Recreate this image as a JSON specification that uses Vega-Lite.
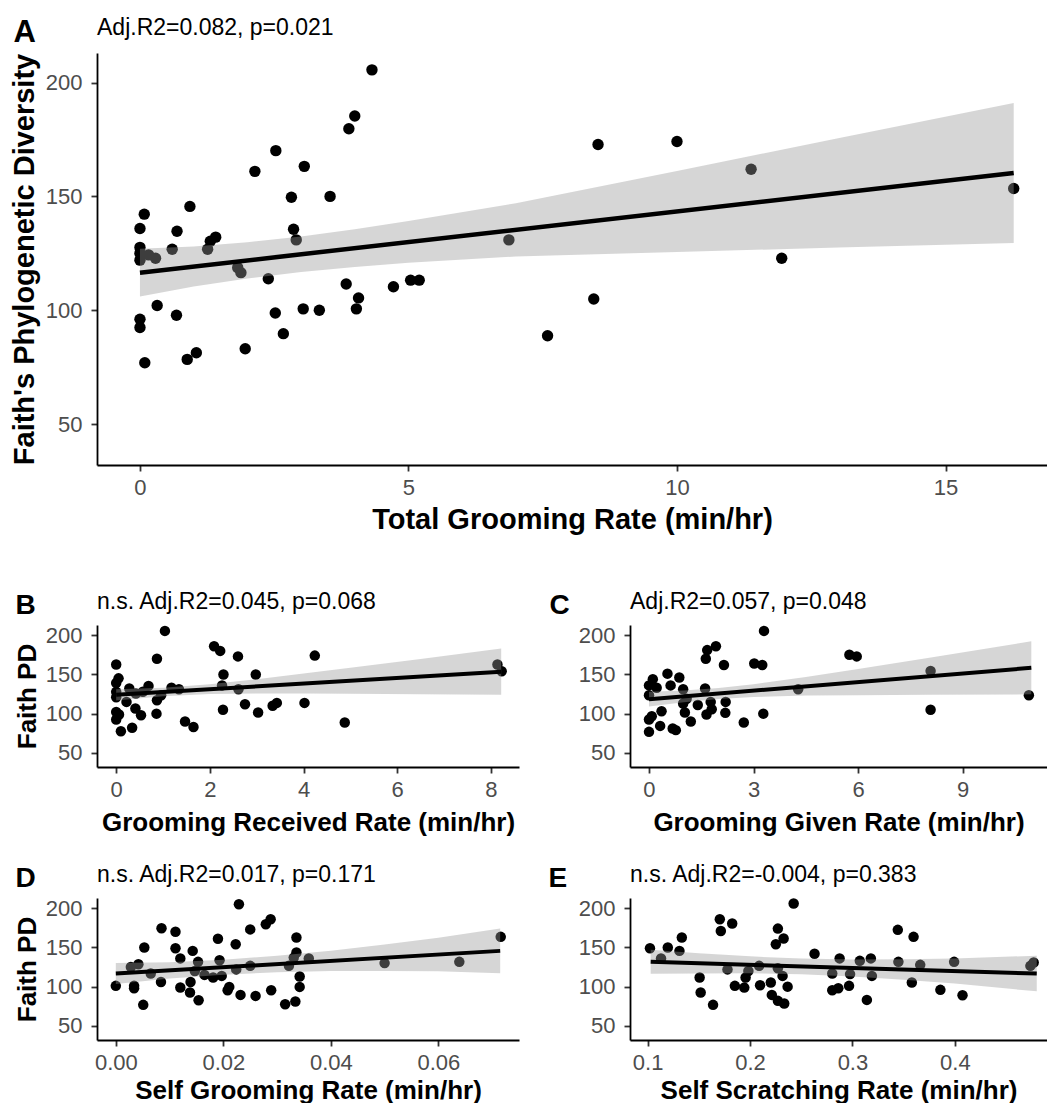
{
  "$schema": "https://vega.github.io/schema/vega-lite/v6.json",
  "background": "white",
  "padding": {"left": 10, "top": 16, "right": 0, "bottom": 0},
  "bounds": "flush",
  "spacing": 160,
  "config": {
    "font": "Liberation Sans",
    "view": {"stroke": null},
    "axis": {"grid": false, "domainColor": "black", "domainWidth": 1.8, "tickColor": "#333333", "tickWidth": 1.8, "tickSize": 6, "labelColor": "#4D4D4D", "labelFontSize": 22, "labelFlush": false, "labelFont": "Liberation Sans", "titleFont": "Liberation Sans", "titleColor": "black", "titleFontWeight": "bold"},
    "axisX": {"labelPadding": 6},
    "axisY": {"labelPadding": 9},
    "title": {"font": "Liberation Sans", "color": "black", "fontWeight": "normal", "fontSize": 23, "anchor": "start", "frame": "group", "baseline": "alphabetic"}
  },
  "vconcat": [
    {
      "width": 950, "height": 412,
      "title": {"text": "Adj.R2=0.082, p=0.021", "offset": -24},
      "resolve": {"axis": {"x": "independent"}},
      "layer": [
        {
          "data": {"values": [
            {"x":4.32,"y":205.6},{"x":4.0,"y":185.3},{"x":3.89,"y":179.7},{"x":2.53,"y":170.1},{"x":3.06,"y":163.2},{"x":2.14,"y":161.0},{"x":0.93,"y":145.6},{"x":0.08,"y":142.2},{"x":2.82,"y":149.6},{"x":3.54,"y":150.0},{"x":0.0,"y":135.9},{"x":0.69,"y":134.7},{"x":2.86,"y":135.6},{"x":1.41,"y":132.1},{"x":1.31,"y":130.3},{"x":2.91,"y":130.9},{"x":0.6,"y":126.8},{"x":1.26,"y":126.8},{"x":0.0,"y":127.6},{"x":0.0,"y":125.0},{"x":0.0,"y":122.0},{"x":0.16,"y":124.3},{"x":0.29,"y":122.8},{"x":1.82,"y":118.7},{"x":1.88,"y":116.5},{"x":2.39,"y":113.8},{"x":3.84,"y":111.5},{"x":4.72,"y":110.3},{"x":5.04,"y":113.2},{"x":5.2,"y":113.2},{"x":4.07,"y":105.4},{"x":4.03,"y":100.6},{"x":3.04,"y":100.6},{"x":3.34,"y":100.0},{"x":2.52,"y":98.8},{"x":0.68,"y":97.8},{"x":0.32,"y":102.1},{"x":0.0,"y":96.0},{"x":0.0,"y":92.4},{"x":2.67,"y":89.7},{"x":1.96,"y":83.1},{"x":1.05,"y":81.3},{"x":0.88,"y":78.4},{"x":0.09,"y":76.9},{"x":6.87,"y":130.9},{"x":8.53,"y":172.8},{"x":10.0,"y":174.1},{"x":11.38,"y":161.9},{"x":16.27,"y":153.5},{"x":11.95,"y":122.8},{"x":8.45,"y":104.9},{"x":7.59,"y":88.8}
          ]},
          "mark": {"type": "circle", "size": 130, "color": "black", "opacity": 1},
          "encoding": {
            "x": {"field": "x", "type": "quantitative", "scale": {"domain": [-0.8, 16.89], "nice": false, "zero": false}, "axis": {"title": "Total Grooming Rate (min/hr)", "values": [0, 5, 10, 15], "titleFontSize": 29, "titlePadding": 7}},
            "y": {"field": "y", "type": "quantitative", "scale": {"domain": [32, 213], "nice": false, "zero": false}, "axis": {"title": "Faith's Phylogenetic Diversity", "values": [50, 100, 150, 200], "titleFontSize": 29, "titlePadding": 6}}
          }
        },
        {
          "data": {"values": [
            {"x":0,"lo":106.0,"hi":127.0},{"x":1,"lo":110.4,"hi":128.0},{"x":2,"lo":113.9,"hi":129.9},{"x":3,"lo":116.8,"hi":132.4},{"x":4,"lo":119.0,"hi":135.6},{"x":5,"lo":120.8,"hi":139.2},{"x":7,"lo":123.6,"hi":147.0},{"x":10,"lo":125.6,"hi":161.2},{"x":13,"lo":127.5,"hi":175.5},{"x":16.27,"lo":129.5,"hi":191.0}
          ]},
          "mark": {"type": "area", "color": "#999999", "opacity": 0.4},
          "encoding": {
            "x": {"field": "x", "type": "quantitative", "axis": {"orient": "top", "title": "A", "labels": false, "ticks": false, "domain": false, "titleX": -84, "titleY": -12, "titleAlign": "left", "titleBaseline": "alphabetic", "titleAngle": 0, "titleFontSize": 31}},
            "y": {"field": "lo", "type": "quantitative", "title": "Faith's Phylogenetic Diversity"},
            "y2": {"field": "hi"}
          }
        },
        {
          "data": {"values": [{"x":0,"y":116.5},{"x":16.27,"y":160.3}]},
          "mark": {"type": "line", "color": "black", "strokeWidth": 4.5},
          "encoding": {
            "x": {"field": "x", "type": "quantitative", "axis": null},
            "y": {"field": "y", "type": "quantitative", "title": "Faith's Phylogenetic Diversity"}
          }
        }
      ]
    },
    {
      "vconcat": [
        {
          "hconcat": [
            {
              "width": 422, "height": 142,
              "title": {"text": "n.s. Adj.R2=0.045, p=0.068", "offset": -23},
              "resolve": {"axis": {"x": "independent"}},
              "layer": [
                {
                  "data": {"values": [
                    {"x":1.04,"y":205.5},{"x":2.09,"y":186},{"x":2.22,"y":180},{"x":2.6,"y":173},{"x":4.24,"y":174},{"x":0.87,"y":170},{"x":0,"y":162.6},{"x":8.14,"y":162.6},{"x":8.23,"y":154},{"x":2.29,"y":150},{"x":2.98,"y":150},{"x":0.05,"y":145},{"x":0,"y":139},{"x":0.69,"y":135.4},{"x":1.18,"y":133},{"x":1.34,"y":131},{"x":2.26,"y":136},{"x":2.61,"y":131},{"x":0.28,"y":132},{"x":0,"y":127.8},{"x":0,"y":121},{"x":0.42,"y":125.6},{"x":0.57,"y":128},{"x":0.96,"y":123.5},{"x":0.87,"y":117},{"x":0.22,"y":115},{"x":0.41,"y":106.5},{"x":0.53,"y":98},{"x":0.86,"y":100},{"x":0,"y":102},{"x":0.06,"y":99},{"x":0,"y":92.5},{"x":0.1,"y":77.6},{"x":0.34,"y":82},{"x":1.47,"y":90},{"x":1.65,"y":83},{"x":2.28,"y":105},{"x":2.75,"y":112},{"x":3.03,"y":101.4},{"x":3.34,"y":110},{"x":3.43,"y":113.7},{"x":4.02,"y":113.7},{"x":4.88,"y":88.7}
                  ]},
                  "mark": {"type": "circle", "size": 110, "color": "black", "opacity": 1},
                  "encoding": {
                    "x": {"field": "x", "type": "quantitative", "scale": {"domain": [-0.41, 8.6], "nice": false, "zero": false}, "axis": {"title": "Grooming Received Rate (min/hr)", "values": [0, 2, 4, 6, 8], "titleFontSize": 26, "titlePadding": 9}},
                    "y": {"field": "y", "type": "quantitative", "scale": {"domain": [32, 213], "nice": false, "zero": false}, "axis": {"title": "Faith PD", "values": [50, 100, 150, 200], "titleFontSize": 26, "titlePadding": 5}}
                  }
                },
                {
                  "data": {"values": [
                    {"x":0,"lo":116.75,"hi":131.25},{"x":1,"lo":122.2,"hi":133.0},{"x":2,"lo":125.0,"hi":137.4},{"x":3,"lo":125.7,"hi":143.9},{"x":4,"lo":125.7,"hi":151.1},{"x":5,"lo":125.45,"hi":158.45},{"x":6.5,"lo":124.8,"hi":169.8},{"x":8.22,"lo":124.1,"hi":182.9}
                  ]},
                  "mark": {"type": "area", "color": "#999999", "opacity": 0.4},
                  "encoding": {
                    "x": {"field": "x", "type": "quantitative", "axis": {"orient": "top", "title": "B", "labels": false, "ticks": false, "domain": false, "titleX": -82, "titleY": -12, "titleAlign": "left", "titleBaseline": "alphabetic", "titleAngle": 0, "titleFontSize": 28}},
                    "y": {"field": "lo", "type": "quantitative", "title": "Faith PD"},
                    "y2": {"field": "hi"}
                  }
                },
                {
                  "data": {"values": [{"x":0,"y":124},{"x":8.22,"y":153.5}]},
                  "mark": {"type": "line", "color": "black", "strokeWidth": 4},
                  "encoding": {
                    "x": {"field": "x", "type": "quantitative", "axis": null},
                    "y": {"field": "y", "type": "quantitative", "title": "Faith PD"}
                  }
                }
              ]
            },
            {
              "width": 417, "height": 142,
              "title": {"text": "Adj.R2=0.057, p=0.048", "offset": -23},
              "resolve": {"axis": {"x": "independent"}},
              "layer": [
                {
                  "data": {"values": [
                    {"x":3.3,"y":205.5},{"x":1.92,"y":186},{"x":1.67,"y":181},{"x":1.63,"y":170},{"x":5.75,"y":175},{"x":5.96,"y":173},{"x":3.02,"y":164},{"x":3.25,"y":162},{"x":2.15,"y":162},{"x":0.53,"y":151},{"x":0.87,"y":146},{"x":0.11,"y":144},{"x":0.62,"y":136},{"x":0.22,"y":133},{"x":0,"y":136},{"x":1.61,"y":132},{"x":0.98,"y":131},{"x":8.08,"y":154.5},{"x":4.28,"y":131},{"x":0,"y":123.5},{"x":10.9,"y":123.5},{"x":1.08,"y":119},{"x":0.98,"y":113},{"x":1.4,"y":111},{"x":1.77,"y":115},{"x":1.8,"y":105.6},{"x":2.2,"y":115},{"x":2.19,"y":101},{"x":1.65,"y":99},{"x":1.03,"y":101.4},{"x":3.28,"y":100},{"x":8.08,"y":105},{"x":0.36,"y":103},{"x":0.08,"y":96.7},{"x":0,"y":92.5},{"x":1.2,"y":90},{"x":2.72,"y":88.7},{"x":0.32,"y":84.4},{"x":0.68,"y":81},{"x":0.77,"y":79},{"x":0,"y":76.8}
                  ]},
                  "mark": {"type": "circle", "size": 110, "color": "black", "opacity": 1},
                  "encoding": {
                    "x": {"field": "x", "type": "quantitative", "scale": {"domain": [-0.545, 11.42], "nice": false, "zero": false}, "axis": {"title": "Grooming Given Rate (min/hr)", "values": [0, 3, 6, 9], "titleFontSize": 26, "titlePadding": 9}},
                    "y": {"field": "y", "type": "quantitative", "scale": {"domain": [32, 213], "nice": false, "zero": false}, "axis": {"title": null, "values": [50, 100, 150, 200]}}
                  }
                },
                {
                  "data": {"values": [
                    {"x":0,"lo":109.0,"hi":128.0},{"x":1,"lo":114.6,"hi":129.6},{"x":2,"lo":118.8,"hi":132.8},{"x":3,"lo":121.2,"hi":137.6},{"x":4.5,"lo":123.0,"hi":146.8},{"x":6,"lo":123.6,"hi":157.0},{"x":8,"lo":124.2,"hi":171.0},{"x":10.97,"lo":124.6,"hi":192.2}
                  ]},
                  "mark": {"type": "area", "color": "#999999", "opacity": 0.4},
                  "encoding": {
                    "x": {"field": "x", "type": "quantitative", "axis": {"orient": "top", "title": "C", "labels": false, "ticks": false, "domain": false, "titleX": -81, "titleY": -12, "titleAlign": "left", "titleBaseline": "alphabetic", "titleAngle": 0, "titleFontSize": 28}},
                    "y": {"field": "lo", "type": "quantitative", "title": null},
                    "y2": {"field": "hi"}
                  }
                },
                {
                  "data": {"values": [{"x":0,"y":118.5},{"x":10.97,"y":158.4}]},
                  "mark": {"type": "line", "color": "black", "strokeWidth": 4},
                  "encoding": {
                    "x": {"field": "x", "type": "quantitative", "axis": null},
                    "y": {"field": "y", "type": "quantitative", "title": null}
                  }
                }
              ]
            }
          ],
          "spacing": 111,
          "bounds": "flush"
        },
        {
          "hconcat": [
            {
              "width": 422, "height": 142,
              "title": {"text": "n.s. Adj.R2=0.017, p=0.171", "offset": -23},
              "resolve": {"axis": {"x": "independent"}},
              "layer": [
                {
                  "data": {"values": [
                    {"x":0.0229,"y":205},{"x":0.0288,"y":186},{"x":0.0279,"y":179.6},{"x":0.025,"y":173},{"x":0.0085,"y":174.5},{"x":0.0111,"y":170},{"x":0.0336,"y":162.6},{"x":0.0716,"y":163.5},{"x":0.019,"y":161},{"x":0.0223,"y":154},{"x":0.0053,"y":150},{"x":0.0111,"y":149},{"x":0.0143,"y":145.6},{"x":0.0336,"y":143.5},{"x":0.012,"y":136},{"x":0.0153,"y":131.6},{"x":0.0193,"y":133.7},{"x":0.0331,"y":137},{"x":0.0359,"y":136},{"x":0.05,"y":130},{"x":0.0639,"y":131.6},{"x":0.0042,"y":128.6},{"x":0.0028,"y":125},{"x":0.025,"y":126.5},{"x":0.0322,"y":126.5},{"x":0.0065,"y":116.7},{"x":0.0147,"y":120},{"x":0.0165,"y":115},{"x":0.0181,"y":111.6},{"x":0.0197,"y":113.7},{"x":0.0224,"y":122},{"x":0.0342,"y":113},{"x":0.0084,"y":106},{"x":0.0139,"y":106},{"x":0.0034,"y":101},{"x":0,"y":101},{"x":0.012,"y":99},{"x":0.0211,"y":99.7},{"x":0.0342,"y":99.7},{"x":0.0034,"y":98},{"x":0.0208,"y":95.5},{"x":0.0289,"y":95.5},{"x":0.0138,"y":92.5},{"x":0.0232,"y":89.5},{"x":0.026,"y":88.2},{"x":0.0154,"y":82.7},{"x":0.0315,"y":77.6},{"x":0.0334,"y":81},{"x":0.0051,"y":76.8}
                  ]},
                  "mark": {"type": "circle", "size": 110, "color": "black", "opacity": 1},
                  "encoding": {
                    "x": {"field": "x", "type": "quantitative", "scale": {"domain": [-0.0035, 0.075], "nice": false, "zero": false}, "axis": {"title": "Self Grooming Rate (min/hr)", "values": [0, 0.02, 0.04, 0.06], "format": ".2f", "titleFontSize": 26, "titlePadding": 4}},
                    "y": {"field": "y", "type": "quantitative", "scale": {"domain": [32, 213], "nice": false, "zero": false}, "axis": {"title": "Faith PD", "values": [50, 100, 150, 200], "titleFontSize": 26, "titlePadding": 5}}
                  }
                },
                {
                  "data": {"values": [
                    {"x":0,"lo":103.4,"hi":130.0},{"x":0.01,"lo":110.4,"hi":131.0},{"x":0.02,"lo":115.3,"hi":134.3},{"x":0.03,"lo":118.3,"hi":139.3},{"x":0.04,"lo":119.9,"hi":145.9},{"x":0.05,"lo":120.1,"hi":153.7},{"x":0.06,"lo":119.7,"hi":162.3},{"x":0.0715,"lo":117.0,"hi":174.2}
                  ]},
                  "mark": {"type": "area", "color": "#999999", "opacity": 0.4},
                  "encoding": {
                    "x": {"field": "x", "type": "quantitative", "axis": {"orient": "top", "title": "D", "labels": false, "ticks": false, "domain": false, "titleX": -82, "titleY": -12, "titleAlign": "left", "titleBaseline": "alphabetic", "titleAngle": 0, "titleFontSize": 28}},
                    "y": {"field": "lo", "type": "quantitative", "title": "Faith PD"},
                    "y2": {"field": "hi"}
                  }
                },
                {
                  "data": {"values": [{"x":0,"y":116.7},{"x":0.0715,"y":145.6}]},
                  "mark": {"type": "line", "color": "black", "strokeWidth": 4},
                  "encoding": {
                    "x": {"field": "x", "type": "quantitative", "axis": null},
                    "y": {"field": "y", "type": "quantitative", "title": "Faith PD"}
                  }
                }
              ]
            },
            {
              "width": 417, "height": 142,
              "title": {"text": "n.s. Adj.R2=-0.004, p=0.383", "offset": -23},
              "resolve": {"axis": {"x": "independent"}},
              "layer": [
                {
                  "data": {"values": [
                    {"x":0.2426,"y":206},{"x":0.1705,"y":186},{"x":0.1826,"y":180.4},{"x":0.1715,"y":171},{"x":0.2272,"y":174},{"x":0.3443,"y":172.4},{"x":0.2328,"y":161.3},{"x":0.3597,"y":163.5},{"x":0.1334,"y":162.6},{"x":0.2252,"y":154},{"x":0.1023,"y":149},{"x":0.1197,"y":150},{"x":0.1311,"y":145.6},{"x":0.1131,"y":135.8},{"x":0.263,"y":142},{"x":0.2875,"y":136},{"x":0.3072,"y":132.9},{"x":0.318,"y":136},{"x":0.3449,"y":131.6},{"x":0.3993,"y":131.6},{"x":0.477,"y":130.7},{"x":0.4738,"y":126.5},{"x":0.3662,"y":127.8},{"x":0.2089,"y":126.5},{"x":0.1984,"y":120},{"x":0.178,"y":122},{"x":0.2272,"y":123.5},{"x":0.2318,"y":113.7},{"x":0.2803,"y":116.7},{"x":0.2977,"y":116},{"x":0.319,"y":113.7},{"x":0.1957,"y":111.6},{"x":0.1508,"y":111.6},{"x":0.2203,"y":105.2},{"x":0.358,"y":105.2},{"x":0.2098,"y":101.8},{"x":0.2367,"y":100},{"x":0.1852,"y":101},{"x":0.1944,"y":98.8},{"x":0.2967,"y":101},{"x":0.2803,"y":95.5},{"x":0.2862,"y":98},{"x":0.1518,"y":92.5},{"x":0.3859,"y":95.9},{"x":0.4075,"y":89},{"x":0.2213,"y":89.5},{"x":0.2272,"y":81.9},{"x":0.2334,"y":78.5},{"x":0.3141,"y":83.1},{"x":0.1639,"y":76.8}
                  ]},
                  "mark": {"type": "circle", "size": 110, "color": "black", "opacity": 1},
                  "encoding": {
                    "x": {"field": "x", "type": "quantitative", "scale": {"domain": [0.0828, 0.49], "nice": false, "zero": false}, "axis": {"title": "Self Scratching Rate (min/hr)", "values": [0.1, 0.2, 0.3, 0.4], "format": ".1f", "titleFontSize": 26, "titlePadding": 4}},
                    "y": {"field": "y", "type": "quantitative", "scale": {"domain": [32, 213], "nice": false, "zero": false}, "axis": {"title": null, "values": [50, 100, 150, 200]}}
                  }
                },
                {
                  "data": {"values": [
                    {"x":0.103,"lo":116.3,"hi":146.9},{"x":0.15,"lo":116.7,"hi":142.7},{"x":0.2,"lo":117.0,"hi":138.6},{"x":0.25,"lo":115.8,"hi":135.8},{"x":0.3,"lo":113.0,"hi":134.6},{"x":0.35,"lo":108.8,"hi":134.8},{"x":0.4,"lo":103.9,"hi":135.9},{"x":0.48,"lo":94.0,"hi":139.4}
                  ]},
                  "mark": {"type": "area", "color": "#999999", "opacity": 0.4},
                  "encoding": {
                    "x": {"field": "x", "type": "quantitative", "axis": {"orient": "top", "title": "E", "labels": false, "ticks": false, "domain": false, "titleX": -82, "titleY": -12, "titleAlign": "left", "titleBaseline": "alphabetic", "titleAngle": 0, "titleFontSize": 28}},
                    "y": {"field": "lo", "type": "quantitative", "title": null},
                    "y2": {"field": "hi"}
                  }
                },
                {
                  "data": {"values": [{"x":0.103,"y":131.6},{"x":0.48,"y":116.7}]},
                  "mark": {"type": "line", "color": "black", "strokeWidth": 4},
                  "encoding": {
                    "x": {"field": "x", "type": "quantitative", "axis": null},
                    "y": {"field": "y", "type": "quantitative", "title": null}
                  }
                }
              ]
            }
          ],
          "spacing": 111,
          "bounds": "flush"
        }
      ],
      "spacing": 273,
      "bounds": "flush"
    }
  ]
}
